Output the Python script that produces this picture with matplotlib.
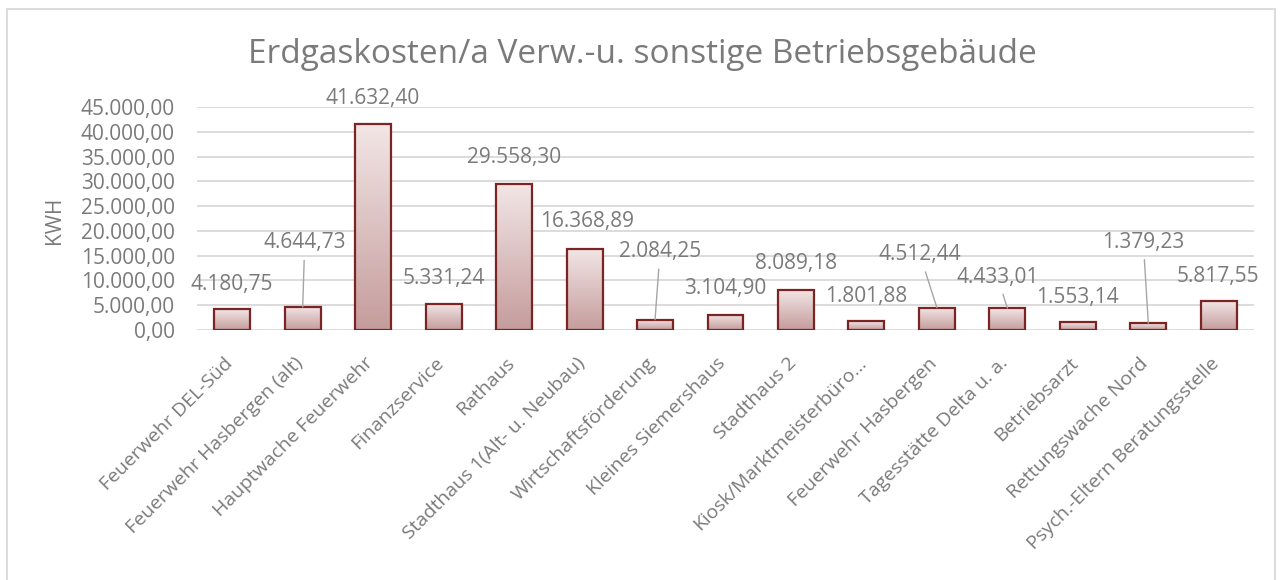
import numpy as np
import matplotlib
matplotlib.use('Agg')
import matplotlib.pyplot as plt
from matplotlib.colors import LinearSegmentedColormap
from matplotlib.patches import Rectangle
from matplotlib.ticker import FuncFormatter, MultipleLocator
import matplotlib.transforms as mtransforms

plt.rcParams['font.family'] = ['Open Sans', 'DejaVu Sans']

# Daten
gebaeude = ['Feuerwehr DEL-Süd', 'Feuerwehr Hasbergen (alt)', 'Hauptwache Feuerwehr',
            'Finanzservice', 'Rathaus', 'Stadthaus 1(Alt- u. Neubau)', 'Wirtschaftsförderung',
            'Kleines Siemershaus', 'Stadthaus 2', 'Kiosk/Marktmeisterbüro…',
            'Feuerwehr Hasbergen', 'Tagesstätte Delta u. a.', 'Betriebsarzt',
            'Rettungswache Nord', 'Psych.-Eltern Beratungsstelle']
kosten = [4180.75, 4644.73, 41632.40, 5331.24, 29558.30, 16368.89, 2084.25,
          3104.90, 8089.18, 1801.88, 4512.44, 4433.01, 1553.14, 1379.23, 5817.55]

# Versatz der Beschriftungen (Pixel) und ob eine Führungslinie gezeichnet wird
label_offsets = [(0, 25), (2, 64), (-1, 25), (0, 25), (0, 26), (2, 27), (5, 68), (0, 26),
                 (0, 26), (0, 25), (-17, 53), (-10, 31), (0, 25), (-5, 81), (-1, 25)]
leader = [False, True, False, False, False, False, True, False,
          False, False, True, True, False, True, False]

grau = '#7a7a7a'


def de_format(v, pos=None):
    s = f'{v:,.2f}'
    return s.replace(',', 'X').replace('.', ',').replace('X', '.')


fig = plt.figure(figsize=(12.82, 5.80), dpi=100)
ax = fig.add_axes([197 / 1282, 1 - 330 / 580, (1254 - 197) / 1282, (330 - 107) / 580])

x = np.arange(len(kosten))
breite = 0.51
bars = ax.bar(x, kosten, breite, color='none', edgecolor='#7b2424', linewidth=1.6, zorder=4)

# Farbverlauf in den Balken
cmap = LinearSegmentedColormap.from_list('verlauf', ['#c59c9c', '#f3e6e6'])
grad = np.linspace(0, 1, 256).reshape(-1, 1)
for b in bars:
    x0, w, h = b.get_x(), b.get_width(), b.get_height()
    ax.imshow(grad, extent=[x0, x0 + w, 0, h], origin='lower', aspect='auto',
              cmap=cmap, zorder=3)

ax.set_xlim(-0.5, len(kosten) - 0.5)
ax.set_ylim(0, 45000)

# Beschriftungen
for i, v in enumerate(kosten):
    dx, dy = label_offsets[i]
    props = None
    if leader[i]:
        props = dict(arrowstyle='-', color='#a6a6a6', lw=1.0, shrinkA=3, shrinkB=0)
    ax.annotate(de_format(v), xy=(i, v), xytext=(dx, dy), textcoords='offset pixels',
                ha='center', va='center', fontsize=15, color=grau, zorder=5,
                arrowprops=props)

ax.yaxis.set_major_locator(MultipleLocator(5000))
ax.yaxis.set_major_formatter(FuncFormatter(de_format))
ax.grid(axis='y', color='#d9d9d9', linewidth=1.3, zorder=0)
ax.set_axisbelow(True)
for s in ax.spines.values():
    s.set_visible(False)
ax.tick_params(axis='y', length=0, pad=16, labelsize=15, labelcolor=grau)
ax.tick_params(axis='x', length=0, pad=0, labelsize=14, labelcolor=grau)

ax.set_xticks(x)
ax.set_xticklabels(gebaeude, rotation=45, ha='right', va='baseline', rotation_mode='anchor')
verschiebung = mtransforms.ScaledTranslation(1 / 100, -34 / 100, fig.dpi_scale_trans)
for lbl in ax.get_xticklabels():
    lbl.set_transform(lbl.get_transform() + verschiebung)

fig.text(55 / 1282, 1 - 220 / 580, 'KWH', rotation=90, ha='center', va='center',
         fontsize=15, color=grau)
fig.text(642 / 1282, 1 - 63 / 580, 'Erdgaskosten/a Verw.-u. sonstige Betriebsgebäude',
         ha='center', va='baseline', fontsize=24, color=grau)

# Rahmen
fig.patches.append(Rectangle((7 / 1282, -0.1), (1275 - 7) / 1282, 1.1 - 9 / 580,
                             transform=fig.transFigure, fill=False,
                             edgecolor='#d9d9d9', linewidth=1.3))

fig.savefig('out.png', dpi=100)
